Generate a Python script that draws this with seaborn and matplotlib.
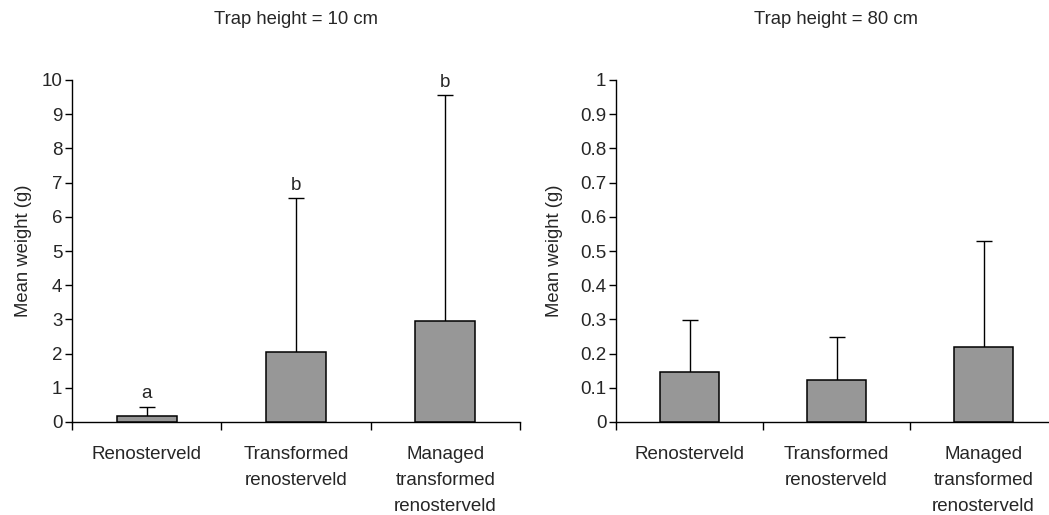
import numpy as np
import pandas as pd
import matplotlib
matplotlib.use("Agg")
import matplotlib.pyplot as plt
import seaborn as sns

sns.set_style("ticks")
plt.rcParams['font.family'] = ['Liberation Sans', 'DejaVu Sans']

categories = ["Renosterveld", "Transformed\nrenosterveld", "Managed\ntransformed\nrenosterveld"]
mean_10cm = [0.17, 2.05, 2.94]
upper_10cm = [0.45, 6.55, 9.55]
letters_10cm = ["a", "b", "b"]
mean_80cm = [0.147, 0.123, 0.219]
upper_80cm = [0.298, 0.249, 0.528]
titles = ["Trap height = 10 cm", "Trap height = 80 cm"]
yticks_10 = list(range(0, 11))
yticks_80 = [0, 0.1, 0.2, 0.3, 0.4, 0.5, 0.6, 0.7, 0.8, 0.9, 1]
ytick_labels_80 = ["0", "0.1", "0.2", "0.3", "0.4", "0.5", "0.6", "0.7", "0.8", "0.9", "1"]

W, H = 1049, 515
fig = plt.figure(figsize=(W / 100, H / 100), dpi=100)
ax1 = fig.add_axes([72 / W, 1 - 422 / H, 448 / W, 342 / H])
ax2 = fig.add_axes([616 / W, 1 - 422 / H, 441 / W, 342 / H])

BAR = "#979797"

def panel(ax, means, uppers, title, yticks, ylabels, ymax, letters=None, ylab_x=-0.09):
    df = pd.DataFrame({"cat": categories, "val": means})
    sns.barplot(data=df, x="cat", y="val", order=categories, color=BAR, width=0.4,
                edgecolor="black", linewidth=1.1, saturation=1, errorbar=None, ax=ax, zorder=3)
    xs = np.arange(len(categories))
    up = np.array(uppers) - np.array(means)
    eb = ax.errorbar(xs, means, yerr=[np.zeros(len(xs)), up], fmt="none", ecolor="black",
                     elinewidth=1.0, capsize=5.5, capthick=1.0, zorder=2)
    caps = eb[1]
    if len(caps) == 2:
        caps[0].set_visible(False)
    if letters:
        for x, u, l in zip(xs, uppers, letters):
            ax.annotate(l, (x, u), xytext=(0, 3), textcoords="offset points",
                        ha="center", va="bottom", fontsize=13.5)
    ax.set_xlim(-0.5, 2.5)
    ax.set_ylim(0, ymax)
    ax.set_yticks(yticks)
    ax.set_yticklabels(ylabels, fontsize=13.5)
    ax.set_xticks([-0.5, 0.5, 1.5, 2.5])
    ax.set_xticklabels([])
    ax.set_xticks(xs, minor=True)
    ax.set_xticklabels(categories, minor=True, fontsize=13.5, linespacing=1.7)
    ax.tick_params(axis="x", which="major", direction="out", length=6, width=1, color="black")
    ax.tick_params(axis="x", which="minor", length=0, pad=17)
    ax.tick_params(axis="y", direction="out", length=5, width=1, color="black", pad=2)
    for s in ["top", "right"]:
        ax.spines[s].set_visible(False)
    for s in ["left", "bottom"]:
        ax.spines[s].set_color("black")
        ax.spines[s].set_linewidth(1.0)
    ax.set_xlabel("")
    ax.set_ylabel("Mean weight (g)", fontsize=13.3)
    ax.yaxis.set_label_coords(ylab_x, 0.5)
    ax.set_title(title, fontsize=13.3, pad=40)

panel(ax1, mean_10cm, upper_10cm, titles[0], yticks_10, [str(t) for t in yticks_10], 10,
      letters=letters_10cm, ylab_x=-0.089)
panel(ax2, mean_80cm, upper_80cm, titles[1], yticks_80, ytick_labels_80, 1, ylab_x=-0.120)

fig.savefig("out.png", dpi=100)
